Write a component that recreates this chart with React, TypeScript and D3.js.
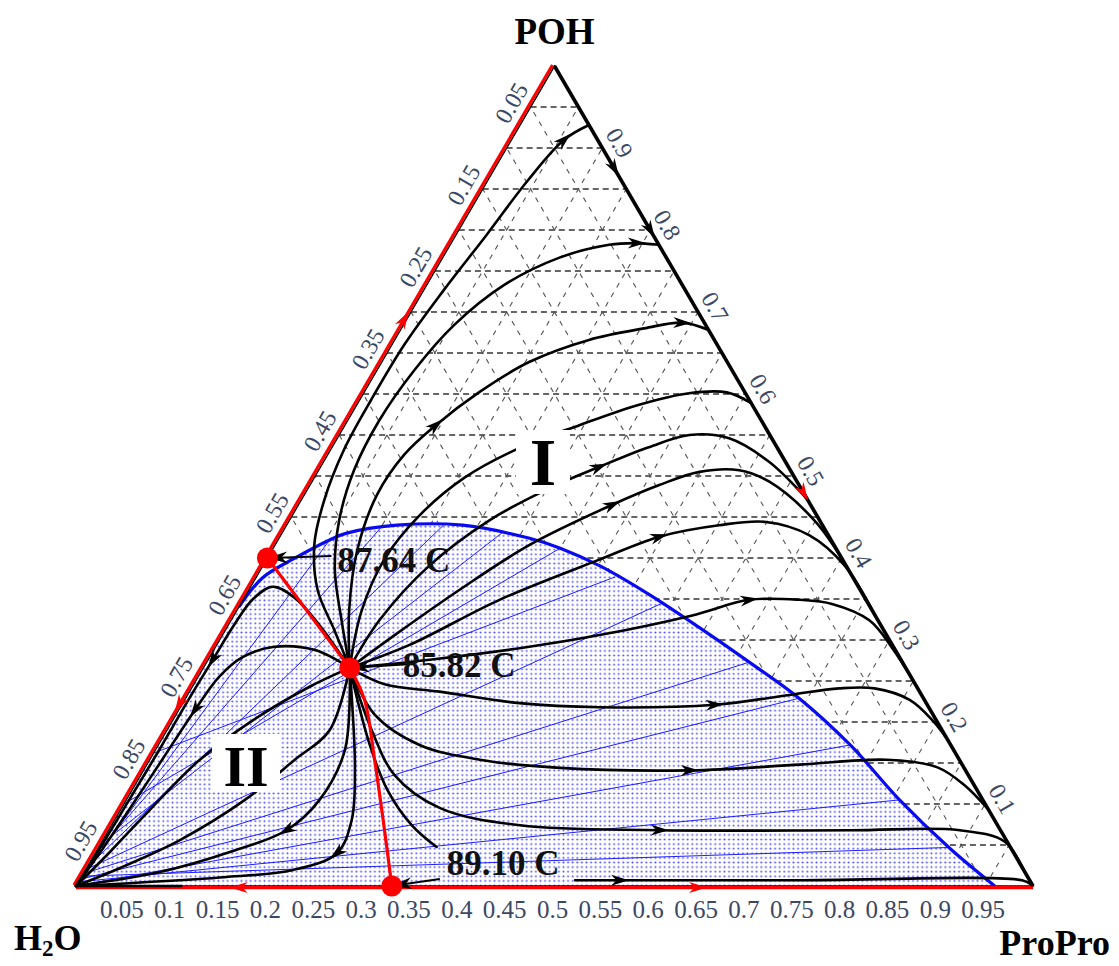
import React, { useEffect, useRef } from "react";
import * as d3 from "d3";

// Compositions are [ProPro, POH] mole fractions; H2O = 1 - ProPro - POH.
type Comp = [number, number];

const bottomTickValues = [0.05, 0.1, 0.15, 0.2, 0.25, 0.3, 0.35, 0.4, 0.45, 0.5, 0.55, 0.6, 0.65, 0.7, 0.75, 0.8, 0.85, 0.9, 0.95];
const leftTickValues = [0.05, 0.15, 0.25, 0.35, 0.45, 0.55, 0.65, 0.75, 0.85, 0.95]; // H2O along the H2O-POH side
const rightTickValues = [0.9, 0.8, 0.7, 0.6, 0.5, 0.4, 0.3, 0.2, 0.1]; // POH along the POH-ProPro side

// Azeotropes
const azeoPOHWater: Comp = [0, 0.4];
const azeoTernary: Comp = [0.153, 0.266];
const azeoWaterProPro: Comp = [0.33, 0];
const azeoLabels = ["87.64 C", "85.82 C", "89.10 C"];

// Liquid-liquid envelope (binodal)
const binodal: Comp[] = [
  [0, 0.34], [0.007, 0.376], [0.03, 0.401], [0.054, 0.422], [0.067, 0.43], [0.115, 0.44],
  [0.184, 0.44], [0.262, 0.424], [0.3, 0.412], [0.353, 0.39], [0.422, 0.355], [0.494, 0.315],
  [0.567, 0.273], [0.641, 0.229], [0.723, 0.172], [0.808, 0.105], [0.89, 0.046], [0.96, 0],
];

// Tie lines: aqueous end (POH on the H2O-POH side) and organic end on the binodal
const tieAqueousPOH = [0.012, 0.005, 0.0, 0.008, 0.015, 0.02, 0.162, 0.1, 0.022, 0.007, 0.05, 0.035];
const tieOrganicEnd: Comp[] = [
  [0.888, 0.047], [0.808, 0.105], [0.723, 0.172], [0.641, 0.229], [0.567, 0.273], [0.44, 0.345],
  [0.375, 0.377], [0.3, 0.412], [0.164, 0.44], [0.054, 0.422], [0.23, 0.431], [0.1, 0.437],
];

// Distillation boundaries
const boundaryUpper: Comp[] = [azeoTernary, azeoPOHWater];
const boundaryLower: Comp[] = [azeoTernary, [0.188, 0.227], [0.235, 0.154], [0.281, 0.08], [0.33, 0]];

// Residue curves, region I (toward ProPro)
const curveA: Comp[] = [azeoTernary, [0.114, 0.312], [0.072, 0.361], [0.041, 0.416], [0.024, 0.471], [0.014, 0.532], [0.012, 0.593], [0.013, 0.66], [0.021, 0.727], [0.032, 0.794], [0.042, 0.861], [0.055, 0.91], [0.072, 0.928]];
const curveB: Comp[] = [azeoTernary, [0.1155, 0.324], [0.078, 0.385], [0.052, 0.446], [0.037, 0.507], [0.033, 0.568], [0.039, 0.629], [0.053, 0.684], [0.081, 0.733], [0.1215, 0.766], [0.166, 0.782], [0.194, 0.784], [0.218, 0.782]];
const curveC: Comp[] = [azeoTernary, [0.117, 0.337], [0.089, 0.41], [0.076, 0.477], [0.08, 0.526], [0.095, 0.562], [0.12, 0.602], [0.154, 0.639], [0.203, 0.666], [0.2535, 0.68], [0.29, 0.687], [0.322, 0.678]];
const curveD: Comp[] = [azeoTernary, [0.131, 0.334], [0.123, 0.398], [0.133, 0.452], [0.157, 0.498], [0.196, 0.534], [0.245, 0.562], [0.295, 0.587], [0.34, 0.601], [0.379, 0.602], [0.411, 0.589]];
const curveE: Comp[] = [azeoTernary, [0.155, 0.324], [0.174, 0.391], [0.209, 0.446], [0.252, 0.485], [0.291, 0.511], [0.331, 0.535], [0.366, 0.55], [0.4095, 0.546], [0.466, 0.517], [0.529, 0.471]];
const curveF: Comp[] = [azeoTernary, [0.18, 0.306], [0.22, 0.361], [0.266, 0.416], [0.328, 0.465], [0.365, 0.489], [0.399, 0.505], [0.4395, 0.507], [0.478, 0.493], [0.5485, 0.446], [0.602, 0.398]];
const curveG: Comp[] = [azeoTernary, [0.2015, 0.294], [0.268, 0.349], [0.348, 0.398], [0.3965, 0.426], [0.452, 0.44], [0.499, 0.444], [0.552, 0.428], [0.6075, 0.391], [0.67, 0.33]];
const curveH: Comp[] = [azeoTernary, [0.2315, 0.276], [0.3185, 0.29], [0.394, 0.306], [0.479, 0.33], [0.529, 0.349], [0.5815, 0.349], [0.618, 0.344], [0.667, 0.324], [0.708, 0.29], [0.749, 0.251]];
const curveQ1: Comp[] = [azeoTernary, [0.1995, 0.246], [0.2615, 0.237], [0.352, 0.223], [0.438, 0.218], [0.557, 0.221], [0.629, 0.233], [0.677, 0.241], [0.714, 0.241], [0.7576, 0.227], [0.794, 0.202], [0.822, 0.178]];
const curveQ2: Comp[] = [azeoTernary, [0.2076, 0.209], [0.273, 0.172], [0.345, 0.154], [0.4335, 0.144], [0.571, 0.141], [0.682, 0.148], [0.77, 0.154], [0.827, 0.145], [0.867, 0.123], [0.907, 0.093]];
const curveQ3: Comp[] = [azeoTernary, [0.214, 0.19], [0.2656, 0.135], [0.333, 0.095], [0.427, 0.074], [0.576, 0.068], [0.775, 0.068], [0.8896, 0.068], [0.9436, 0.054], [0.98, 0.02]];
const curveQs: Comp[] = [azeoTernary, [0.221, 0.172], [0.267, 0.117], [0.314, 0.074], [0.353, 0.0476]];
const curveQ4: Comp[] = [[0.518, 0.007], [0.565, 0.007], [0.75, 0.007], [0.985, 0.007], [0.997, 0.002]];

// Residue curves, region II (toward H2O)
const curveW1: Comp[] = [azeoTernary, [0.0955, 0.318], [0.052, 0.352], [0.023, 0.365], [0.01, 0.35], [0.006, 0.318], [0.005, 0.276], [0.004, 0.23], [0.004, 0.168], [0.003, 0.101], [0.002, 0.044], [0, 0]];
const curveW2: Comp[] = [azeoTernary, [0.105, 0.288], [0.06, 0.2915], [0.0345, 0.279], [0.022, 0.255], [0.017, 0.215], [0.013, 0.154], [0.009, 0.093], [0.005, 0.044], [0, 0]];
const curveW3: Comp[] = [azeoTernary, [0.1226, 0.243], [0.0837, 0.202], [0.0524, 0.154], [0.0307, 0.093], [0.0147, 0.0415], [0, 0]];
const curveW4: Comp[] = [azeoTernary, [0.17, 0.19], [0.1516, 0.154], [0.124, 0.105], [0.0806, 0.056], [0.035, 0.022], [0, 0]];
const curveW5: Comp[] = [azeoTernary, [0.198, 0.166], [0.202, 0.105], [0.186, 0.068], [0.14, 0.0415], [0.079, 0.017], [0, 0]];
const curveW6: Comp[] = [azeoTernary, [0.221, 0.141], [0.248, 0.08], [0.2526, 0.04], [0.217, 0.0195], [0.152, 0.011], [0, 0]];
const curveW7: Comp[] = [[0.11, 0], [0, 0]];

const residueCurves: { pts: Comp[]; arrows: number[] }[] = [
  { pts: curveA, arrows: [11] },
  { pts: curveB, arrows: [11] },
  { pts: curveC, arrows: [5, 10] },
  { pts: curveD, arrows: [] },
  { pts: curveE, arrows: [5] },
  { pts: curveF, arrows: [4] },
  { pts: curveG, arrows: [4] },
  { pts: curveH, arrows: [5] },
  { pts: curveQ1, arrows: [5] },
  { pts: curveQ2, arrows: [5] },
  { pts: curveQ3, arrows: [5] },
  { pts: curveQs, arrows: [] },
  { pts: curveQ4, arrows: [1] },
  { pts: curveW1, arrows: [6] },
  { pts: curveW2, arrows: [5] },
  { pts: curveW3, arrows: [] },
  { pts: curveW4, arrows: [] },
  { pts: curveW5, arrows: [3] },
  { pts: curveW6, arrows: [3] },
  { pts: curveW7, arrows: [] },
];

// Direction arrows on the binary edges
const leftEdgeArrows: [number, number][] = [[0.69, 1], [0.22, -1]]; // POH fraction, +1 toward POH
const bottomEdgeArrows: [number, number][] = [[0.17, -1], [0.65, 1]]; // ProPro fraction, +1 toward ProPro
const rightEdgeArrows: [number, string][] = [[0.875, "#000"], [0.8, "#000"], [0.48, "#ff0000"]]; // POH fraction

const SERIF = "'Liberation Serif', 'Times New Roman', serif";

function arrowD(cx: number, cy: number, dx: number, dy: number, len = 18, hw = 5.5) {
  const L = Math.hypot(dx, dy) || 1;
  const ux = dx / L, uy = dy / L;
  const nx = -uy, ny = ux;
  const tx = cx + ux * len * 0.5, ty = cy + uy * len * 0.5;
  const bx = cx - ux * len * 0.5, by = cy - uy * len * 0.5;
  const kx = bx + ux * len * 0.3, ky = by + uy * len * 0.3;
  return `M${tx},${ty}L${bx + nx * hw},${by + ny * hw}L${kx},${ky}L${bx - nx * hw},${by - ny * hw}Z`;
}

export default function App() {
  const ref = useRef<SVGSVGElement>(null);

  useEffect(() => {
    const svg = d3.select(ref.current);
    svg.selectAll("*").remove();

    const x = d3.scaleLinear().domain([0, 1]).range([76, 1033]);
    const y = d3.scaleLinear().domain([0, 1]).range([886, 66]);
    const P = (c: Comp): [number, number] => [x(c[0] + c[1] / 2), y(c[1])];

    const smooth = d3.line<Comp>().x(d => P(d)[0]).y(d => P(d)[1]).curve(d3.curveCatmullRom.alpha(0.5));
    const straight = d3.line<Comp>().x(d => P(d)[0]).y(d => P(d)[1]);

    svg.append("rect").attr("width", 1119).attr("height", 966).attr("fill", "#fff");

    const defs = svg.append("defs");
    defs.append("clipPath").attr("id", "tri").append("path")
      .attr("d", straight([[0, 0], [1, 0], [0, 1]])! + "Z");
    const pat = defs.append("pattern").attr("id", "dots").attr("patternUnits", "userSpaceOnUse")
      .attr("width", 4.6).attr("height", 4.6);
    pat.append("rect").attr("width", 4.6).attr("height", 4.6).attr("fill", "#fff");
    pat.append("circle").attr("cx", 2.3).attr("cy", 2.3).attr("r", 1.0).attr("fill", "#4a4aff");

    // Triangular grid
    const steps = d3.range(1, 20).map(i => i / 20);
    const grid = svg.append("g").attr("clip-path", "url(#tri)").attr("fill", "none");
    steps.forEach(p => {
      grid.append("path").attr("d", straight([[0, p], [1 - p, p]]))
        .attr("stroke", "#333").attr("stroke-width", 1.4).attr("stroke-dasharray", "6,4");
    });
    steps.forEach(a => {
      grid.append("path").attr("d", straight([[a, 0], [a, 1 - a]]))
        .attr("stroke", "#555").attr("stroke-width", 1.1).attr("stroke-dasharray", "5,6");
    });
    steps.forEach(h => {
      grid.append("path").attr("d", straight([[1 - h, 0], [0, 1 - h]]))
        .attr("stroke", "#555").attr("stroke-width", 1.1).attr("stroke-dasharray", "5,6");
    });

    // Two-liquid region
    const binD = smooth(binodal)!;
    const [cx0, cy0] = P([0, 0]);
    const regionD = `${binD}L${cx0},${cy0}Z`;
    svg.append("path").attr("d", regionD).attr("fill", "url(#dots)");

    // Tie lines
    const ties = svg.append("g").attr("stroke", "#1f1fff").attr("stroke-width", 1).attr("fill", "none");
    tieAqueousPOH.forEach((pw, i) => {
      ties.append("path").attr("d", straight([[0, pw], tieOrganicEnd[i]]));
    });

    svg.append("path").attr("d", binD).attr("fill", "none").attr("stroke", "#0a0af0").attr("stroke-width", 3.2);

    // Triangle edges
    svg.append("path").attr("d", straight([[0, 0], [1, 0], [0, 1]])! + "Z")
      .attr("fill", "none").attr("stroke", "#000").attr("stroke-width", 1.5);
    const [lx0, ly0] = P([0, 0]);
    const [lx1, ly1] = P([0, 1]);
    svg.append("line").attr("x1", lx0 - 2).attr("y1", ly0 - 1).attr("x2", lx1 - 2).attr("y2", ly1 - 1)
      .attr("stroke", "#ff0000").attr("stroke-width", 3.2);
    const [bx1, by1] = P([1, 0]);
    svg.append("line").attr("x1", lx0).attr("y1", ly0 + 1.5).attr("x2", bx1).attr("y2", by1 + 1.5)
      .attr("stroke", "#ff0000").attr("stroke-width", 3.5);
    svg.append("line").attr("x1", lx1).attr("y1", ly1).attr("x2", bx1).attr("y2", by1)
      .attr("stroke", "#000").attr("stroke-width", 3.6);

    // Residue curves
    const rc = svg.append("g").attr("fill", "none").attr("stroke", "#000").attr("stroke-width", 2.6)
      .attr("stroke-linecap", "round").attr("stroke-linejoin", "round");
    residueCurves.forEach(c => {
      rc.append("path").attr("d", smooth(c.pts));
    });

    // Distillation boundaries
    svg.append("path").attr("d", straight(boundaryUpper)).attr("fill", "none")
      .attr("stroke", "#ff0000").attr("stroke-width", 3.2);
    svg.append("path").attr("d", smooth(boundaryLower)).attr("fill", "none")
      .attr("stroke", "#ff0000").attr("stroke-width", 3.2);

    // Arrows on residue curves and edges
    const arrows = svg.append("g");
    residueCurves.forEach(c => {
      c.arrows.forEach(k => {
        const [px, py] = P(c.pts[k]);
        const [ax, ay] = P(c.pts[k - 1]);
        const [bx, by] = P(c.pts[Math.min(k + 1, c.pts.length - 1)]);
        arrows.append("path").attr("d", arrowD(px, py, bx - ax, by - ay)).attr("fill", "#000");
      });
    });
    leftEdgeArrows.forEach(([p, s]) => {
      const [px, py] = P([0, p]);
      arrows.append("path").attr("d", arrowD(px - 2, py - 1, s * (lx1 - lx0), s * (ly1 - ly0)))
        .attr("fill", "#ff0000");
    });
    bottomEdgeArrows.forEach(([a, s]) => {
      const [px, py] = P([a, 0]);
      arrows.append("path").attr("d", arrowD(px, py + 1.5, s, 0)).attr("fill", "#ff0000");
    });
    rightEdgeArrows.forEach(([p, col]) => {
      const [px, py] = P([1 - p, p]);
      arrows.append("path").attr("d", arrowD(px, py, bx1 - lx1, by1 - ly1)).attr("fill", col);
    });

    // Region labels
    const lab = svg.append("g").attr("font-family", SERIF).attr("font-weight", "bold").attr("fill", "#000");
    lab.append("rect").attr("x", 516).attr("y", 430).attr("width", 54).attr("height", 64).attr("fill", "#fff");
    lab.append("text").attr("x", 543).attr("y", 485).attr("text-anchor", "middle").attr("font-size", 68).text("I");
    lab.append("rect").attr("x", 212).attr("y", 734).attr("width", 68).attr("height", 58).attr("fill", "#fff");
    lab.append("text").attr("x", 246).attr("y", 786).attr("text-anchor", "middle").attr("font-size", 58).text("II");

    // Azeotropes, labels and leaders
    const azeos = [azeoPOHWater, azeoTernary, azeoWaterProPro];
    const labelOffsets: [number, number][] = [[70, 14], [53, 9], [55, -11]];
    const leaderFrom: [number, number][] = [[64, -2], [62, -4], [48, -7]];
    azeos.forEach((c, i) => {
      const [px, py] = P(c);
      const [fx, fy] = [px + leaderFrom[i][0], py + leaderFrom[i][1]];
      const dx = px - fx, dy = py - fy;
      const L = Math.hypot(dx, dy);
      const ex = px - (dx / L) * 10, ey = py - (dy / L) * 10;
      svg.append("line").attr("x1", fx).attr("y1", fy).attr("x2", ex).attr("y2", ey)
        .attr("stroke", "#000").attr("stroke-width", 2);
      svg.append("path").attr("d", arrowD(ex, ey, dx, dy, 20, 6)).attr("fill", "#000");
    });
    azeos.forEach(c => {
      const [px, py] = P(c);
      svg.append("circle").attr("cx", px).attr("cy", py).attr("r", 10.5).attr("fill", "#ff0000");
    });
    azeos.forEach((c, i) => {
      const [px, py] = P(c);
      svg.append("text").attr("x", px + labelOffsets[i][0]).attr("y", py + labelOffsets[i][1])
        .attr("font-family", SERIF).attr("font-weight", "bold").attr("font-size", 35)
        .attr("fill", "#111").text(azeoLabels[i]);
    });

    // Tick labels
    const ticks = svg.append("g").attr("font-family", SERIF).attr("font-size", 25).attr("fill", "#3b4763");
    bottomTickValues.forEach(v => {
      ticks.append("text").attr("x", P([v, 0])[0] - 2).attr("y", 918).attr("text-anchor", "middle").text(String(v));
    });
    leftTickValues.forEach(v => {
      const [px, py] = P([0, 1 - v]);
      const tx = px - 19, ty = py - 4;
      ticks.append("text").attr("x", tx).attr("y", ty).attr("text-anchor", "middle").attr("font-size", 24)
        .attr("dominant-baseline", "central").attr("transform", `rotate(-60,${tx},${ty})`).text(String(v));
    });
    rightTickValues.forEach(v => {
      const [px, py] = P([1 - v, v]);
      const tx = px + 17, ty = py - 5;
      ticks.append("text").attr("x", tx).attr("y", ty).attr("text-anchor", "middle").attr("font-size", 24)
        .attr("dominant-baseline", "central").attr("transform", `rotate(60,${tx},${ty})`).text(String(v));
    });

    // Component names
    const names = svg.append("g").attr("font-family", SERIF).attr("font-weight", "bold").attr("font-size", 36).attr("fill", "#000");
    names.append("text").attr("x", P([0, 1])[0]).attr("y", 44).attr("text-anchor", "middle").attr("font-size", 37).text("POH");
    const h2o = names.append("text").attr("x", 14).attr("y", 950);
    h2o.append("tspan").text("H");
    h2o.append("tspan").attr("font-size", 23).attr("dy", 6).text("2");
    h2o.append("tspan").attr("dy", -6).text("O");
    names.append("text").attr("x", 1110).attr("y", 955).attr("text-anchor", "end").text("ProPro");
  }, []);

  return (
    <svg ref={ref} width={1119} height={966}
      style={{ position: "absolute", left: 0, top: 0, display: "block" }} />
  );
}
